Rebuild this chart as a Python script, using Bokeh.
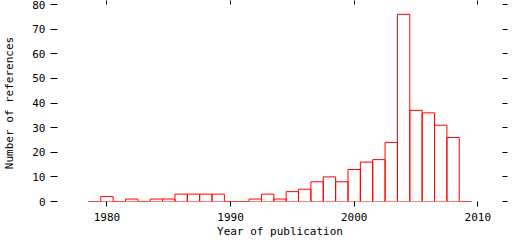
from bokeh.plotting import figure
from bokeh.models import LinearAxis, FixedTicker, Range1d, CustomJSTickFormatter
from bokeh.embed import file_html
from bokeh.resources import INLINE

years = list(range(1979, 2010))
counts = [0, 2, 0, 1, 0, 1, 1, 3, 3, 3, 3, 0, 0, 1, 3, 1, 4, 5, 8, 10, 8,
          13, 16, 17, 24, 76, 37, 36, 31, 26, 0]
x_ticks = [1980, 1990, 2000, 2010]
y_ticks = [0, 10, 20, 30, 40, 50, 60, 70, 80]

FONT = "DejaVu Sans Mono"

p = figure(width=512, height=240, output_backend="svg", toolbar_location=None,
           x_range=Range1d(1976, 2012), y_range=Range1d(0, 80),
           min_border_left=55, min_border_right=10, min_border_top=4,
           min_border_bottom=39)
p.outline_line_color = None
p.grid.visible = False
p.background_fill_color = "white"
p.border_fill_color = "white"

left = [y - 0.5 for y in years]
right = [y + 0.5 for y in years]
p.quad(left=left, right=right, bottom=0, top=counts,
       fill_color=None, line_color="#ff0000", line_width=1)


def style(ax):
    ax.axis_line_color = None
    ax.major_tick_line_color = "black"
    ax.major_tick_in = 0
    ax.minor_tick_in = 0
    ax.minor_tick_out = 0
    ax.major_label_text_font = FONT
    ax.major_label_text_font_size = "11px"
    ax.major_label_text_color = "black"
    ax.axis_label_text_font = FONT
    ax.axis_label_text_font_size = "11px"
    ax.axis_label_text_font_style = "normal"
    ax.axis_label_text_color = "black"


xa = p.xaxis[0]
xa.ticker = FixedTicker(ticks=x_ticks)
style(xa)
xa.major_tick_out = 5
xa.major_label_standoff = 6
xa.axis_label = "Year of publication"
xa.axis_label_standoff = 1

ya = p.yaxis[0]
ya.ticker = FixedTicker(ticks=y_ticks)
style(ya)
ya.major_tick_out = 7
ya.major_label_standoff = 5
ya.axis_label = "Number of references"
ya.axis_label_standoff = 13

blank = CustomJSTickFormatter(code="return ''")

top = LinearAxis(ticker=FixedTicker(ticks=x_ticks), formatter=blank)
style(top)
top.major_label_standoff = 0
top.major_tick_out = 4
p.add_layout(top, "above")

ra = LinearAxis(ticker=FixedTicker(ticks=y_ticks), formatter=blank)
style(ra)
ra.major_label_standoff = 0
ra.major_tick_out = 5
p.add_layout(ra, "right")

open("out.html", "w").write(file_html(p, INLINE))
